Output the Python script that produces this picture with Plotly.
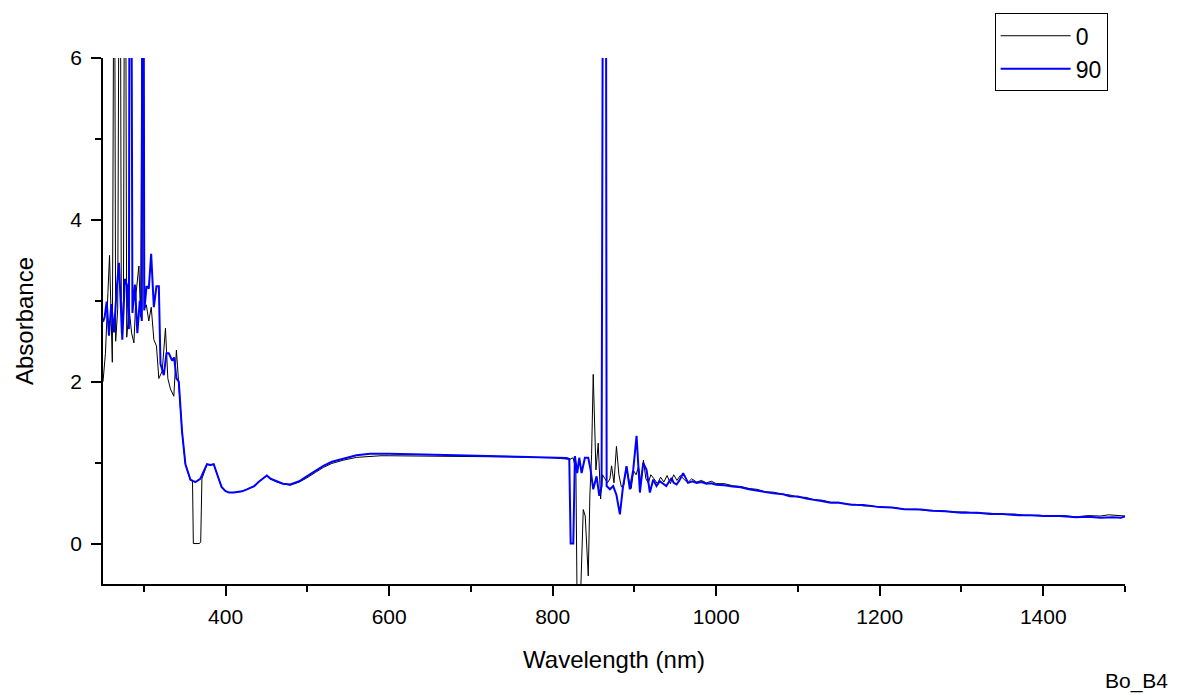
import plotly.graph_objects as go

# ---- data ----
wl_0 = [250, 253, 256, 258, 261.4, 263.2, 263.8, 265.5, 268, 270.2, 270.8, 272.5, 275, 276.7, 277.3,
        279, 282, 285, 287.8, 290.5, 293.9, 296, 298, 298.6, 300.5, 303, 306, 309, 312.2, 315.4,
        318.3, 322.4, 326.4, 329.3, 332.5, 336.6, 339.8, 342.7, 346.7, 350.8, 356.9, 359.5, 360.5,
        368, 369.5, 371, 377.2, 381.3, 385.4, 391.5, 395, 399.6, 404, 409.8, 415, 420, 426, 435,
        440.2, 445, 450.4, 455, 462.6, 470, 478.9, 490, 499.2, 510, 519.5, 530, 543.9, 560, 576.4,
        590, 600, 650, 700, 750, 800, 817, 821, 825, 828.4, 830, 833.3, 837.4,
        839.8, 843.5, 845.5, 847.6, 849.6, 852.9, 855.7, 858.6, 861, 864, 867, 870, 872, 875, 878,
        881, 884, 887, 890, 893, 896, 899, 902, 905, 908, 911, 914, 917, 920, 924, 928, 932, 936,
        940, 944, 948, 952, 956, 960, 965, 970, 976, 982, 988, 994, 1000, 1010, 1020, 1030, 1040,
        1050, 1060, 1070, 1080, 1090, 1100, 1110, 1120, 1130, 1140, 1150, 1160, 1170, 1180, 1190,
        1200, 1215, 1230, 1245, 1260, 1275, 1290, 1305, 1320, 1335, 1350, 1365, 1380, 1395, 1410,
        1425, 1440, 1455, 1470, 1480, 1490, 1500]
abs_0 = [2.00, 2.35, 3.10, 3.56, 2.24, 9.0, 9.0, 2.50, 2.90, 9.0, 9.0, 2.60, 3.00, 9.0, 9.0,
         2.55, 2.90, 2.60, 2.48, 3.10, 3.43, 2.80, 9.0, 9.0, 2.90, 2.95, 2.75, 2.92, 2.52, 2.44,
         2.04, 2.13, 2.66, 2.04, 1.91, 1.82, 2.39, 2.00, 1.38, 0.98, 0.78, 0.77, 0.0,
         0.0, 0.02, 0.80, 0.98, 0.97, 0.98, 0.80, 0.70, 0.65, 0.63, 0.63, 0.635, 0.645, 0.67, 0.71,
         0.76, 0.80, 0.84, 0.80, 0.76, 0.74, 0.72, 0.76, 0.81, 0.88, 0.94, 0.99, 1.03, 1.065, 1.08,
         1.085, 1.085, 1.08, 1.08, 1.07, 1.06, 1.04, 1.04, 1.06, 0.91, -0.9, -0.9, 0.42,
         0.34, -0.40, 0.60, 1.10, 2.09, 0.91, 1.24, 0.55, 0.85, 0.80, 0.75, 0.80, 0.96, 0.75, 1.20,
         0.85, 0.70, 0.72, 0.95, 0.80, 0.68, 0.90, 0.85, 0.95, 0.75, 1.03, 0.80, 0.75, 0.85, 0.80, 0.74, 0.82, 0.76,
         0.84, 0.74, 0.85, 0.78, 0.84, 0.80, 0.75, 0.80, 0.76, 0.78, 0.75, 0.77, 0.74, 0.74, 0.715, 0.705, 0.68,
         0.67, 0.64, 0.635, 0.61, 0.60, 0.575, 0.57, 0.54, 0.535, 0.51, 0.51, 0.485, 0.485, 0.465, 0.465,
         0.45, 0.445, 0.425, 0.425, 0.405, 0.405, 0.39, 0.39, 0.375, 0.375, 0.36, 0.365, 0.345, 0.35, 0.335,
         0.345, 0.33, 0.345, 0.34, 0.355, 0.345, 0.34]

wl_90 = [250, 252, 254.5, 257.3, 260.2, 263.4, 266.7, 269.5, 273.6, 276.8, 279.7, 281.7, 282.6, 284.3,
         286, 289, 292, 295, 297.5, 298.4, 299.4, 300.5, 303.3, 306, 308.9, 312.2, 315.4, 318.3, 320.3,
         324.4, 327.6, 330.5, 334.6, 337, 339.8, 342.7, 346.7, 350.8, 356.9, 363, 369, 377.2, 381.3,
         385.4, 391.5, 395, 399.6, 404, 409.8, 415, 420, 426, 435, 440.2, 445, 450.4, 455, 462.6, 470,
         478.9, 490, 499.2, 510, 519.5, 530, 543.9, 560, 576.7, 590, 600,
         642, 703, 760, 817, 820.3, 822, 825.2, 827.2, 830, 832.5, 835.4, 839.4, 843.5, 846.4, 849.6,
         853.7, 857, 859.8, 861.8, 865, 866, 870, 874, 878, 882.2, 886, 890.4, 894.4, 898.5, 902.6,
         906.7, 910.7, 914.8, 918.9, 923, 927, 931, 935, 939, 942, 945.4, 948, 951.5, 955, 959.6,
         965.7, 971, 976, 982, 988, 994, 1000, 1010, 1020, 1030, 1040, 1049, 1060, 1070, 1082, 1090,
         1100, 1110, 1127, 1140, 1150, 1165, 1180, 1200, 1215, 1230, 1250, 1265, 1280, 1300, 1320,
         1335, 1350, 1370, 1385, 1400, 1420, 1440, 1455, 1470, 1485, 1495, 1500]
abs_90 = [2.74, 2.80, 2.99, 2.57, 2.96, 2.61, 3.14, 3.47, 2.52, 3.27, 3.18, 2.65, 9.0, 9.0,
          2.85, 3.20, 2.60, 3.00, 2.75, 9.0, 9.0, 2.88, 3.18, 3.15, 3.58, 2.92, 3.18, 3.18, 2.22,
          2.08, 2.35, 2.35, 2.26, 2.30, 2.04, 2.00, 1.38, 0.98, 0.79, 0.76, 0.80, 0.98, 0.97,
          0.98, 0.80, 0.70, 0.65, 0.63, 0.63, 0.635, 0.645, 0.67, 0.71, 0.76, 0.80, 0.84, 0.80, 0.77, 0.74,
          0.73, 0.77, 0.83, 0.90, 0.96, 1.01, 1.05, 1.09, 1.11, 1.11, 1.11,
          1.10, 1.087, 1.075, 1.058, 1.046, 0.0, 0.0, 1.08, 0.87, 1.06, 0.87, 1.06, 1.06, 0.91, 0.67,
          0.83, 0.59, 0.71, 9.0, 9.0, 0.71, 0.67, 0.71, 0.60, 0.36, 0.70, 0.955, 0.67, 0.91, 1.33,
          0.63, 0.997, 0.91, 0.63, 0.79, 0.71, 0.77, 0.74, 0.71, 0.76, 0.81, 0.75, 0.73, 0.78, 0.87,
          0.75, 0.77, 0.75, 0.76, 0.74, 0.745, 0.725, 0.72, 0.705, 0.695, 0.67, 0.655, 0.64, 0.62, 0.61, 0.585,
          0.58, 0.555, 0.53, 0.505, 0.505, 0.48, 0.475, 0.45, 0.445, 0.425, 0.42, 0.405, 0.40, 0.38, 0.38,
          0.365, 0.365, 0.35, 0.35, 0.34, 0.34, 0.325, 0.33, 0.32, 0.325, 0.32, 0.335]

series_names = ["0", "90"]
x_ticks = [400, 600, 800, 1000, 1200, 1400]
y_ticks = [0, 2, 4, 6]

FONT = "Arial, Liberation Sans, sans-serif"

fig = go.Figure()
fig.add_trace(go.Scatter(x=wl_0, y=abs_0, mode="lines", name=series_names[0],
                         line=dict(color="#000000", width=1)))
fig.add_trace(go.Scatter(x=wl_90, y=abs_90, mode="lines", name=series_names[1],
                         line=dict(color="#0000FF", width=2)))

axis_common = dict(showline=True, linecolor="black", linewidth=1.5, ticks="outside",
                   tickcolor="black", tickwidth=1.5, ticklen=10, showgrid=False,
                   zeroline=False, mirror=False,
                   tickfont=dict(family=FONT, size=21, color="black"))

fig.update_xaxes(range=[250, 1500], tickmode="array", tickvals=x_ticks,
                 ticktext=[str(v) for v in x_ticks],
                 minor=dict(dtick=100, tick0=0, ticks="outside", ticklen=6,
                            tickcolor="black", tickwidth=1.5, showgrid=False),
                 ticklabelstandoff=3,
                 title=dict(text="Wavelength (nm)", font=dict(family=FONT, size=24, color="black"),
                            standoff=24),
                 **axis_common)
fig.update_yaxes(range=[-0.5, 6], tickmode="array", tickvals=y_ticks,
                 ticktext=[str(v) for v in y_ticks],
                 minor=dict(dtick=1, tick0=0, ticks="outside", ticklen=6,
                            tickcolor="black", tickwidth=1.5, showgrid=False),
                 ticklabelstandoff=5,
                 title=dict(text="Absorbance", font=dict(family=FONT, size=24, color="black"),
                            standoff=30),
                 **axis_common)

fig.update_layout(
    width=1178, height=695,
    margin=dict(l=103, r=53, t=58, b=111, autoexpand=False),
    plot_bgcolor="white", paper_bgcolor="white",
    font=dict(family=FONT, size=20, color="black"),
    showlegend=True,
    legend=dict(x=0.983, y=1.085, xanchor="right", yanchor="top",
                bordercolor="black", borderwidth=1, bgcolor="white",
                font=dict(family=FONT, size=23, color="black"),
                itemwidth=70, tracegroupgap=0),
    annotations=[dict(text="Bo_B4", xref="paper", yref="paper", x=1.044, y=-0.185,
                      xanchor="right", yanchor="middle", showarrow=False,
                      font=dict(family=FONT, size=21, color="black"))],
)

fig.write_html("out.html")
